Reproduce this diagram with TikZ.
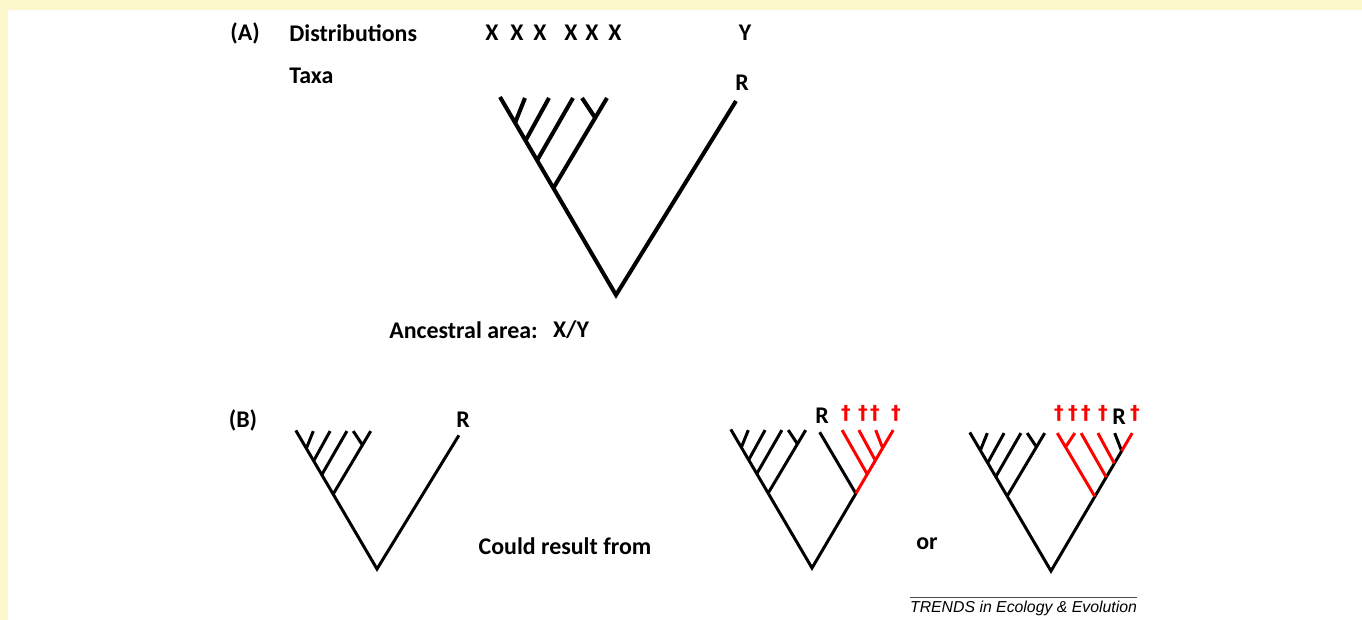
\documentclass[tikz,border=0pt]{standalone}
\usepackage{fontspec}
\setmainfont{Carlito}
\newfontfamily\trendsfont{Liberation Sans}
\newfontfamily\daggerfont{DejaVu Sans}
\usetikzlibrary{calc}
\definecolor{paleyellow}{RGB}{251,247,203}
\definecolor{lostred}{RGB}{255,0,0}
\tikzset{
  bigbranch/.style={line width=2.3pt, black},
  branch/.style={line width=1.7pt, black},
  lost/.style={line width=1.7pt, lostred},
  lab/.style={font=\bfseries\fontsize{13.6}{15}\selectfont, inner sep=0pt},
  dagger/.style={font=\daggerfont\bfseries\fontsize{11}{13}\selectfont, text=lostred, inner sep=0pt},
  credit/.style={font=\trendsfont\itshape\fontsize{9}{10}\selectfont, inner sep=0pt},
}

\begin{document}
\begin{tikzpicture}[x=0.2mm, y=-0.2mm]
  \fill[paleyellow] (0,0) rectangle (1362,620);
  \fill[white] (8,10) rectangle (1362,620);
  % (A)
  \node[lab] (labA) at (245,33) {(A)};
  \node[lab, anchor=west] (distr) at (289,33) {Distributions};
  \node[lab, anchor=west] (taxa) at (289,76) {Taxa};
  \node[lab] (x1) at (492,33) {X};
  \node[lab] (x2) at (517,33) {X};
  \node[lab] (x3) at (540,33) {X};
  \node[lab] (x4) at (571,33) {X};
  \node[lab] (x5) at (592,33) {X};
  \node[lab] (x6) at (615,33) {X};
  \node[lab] (y1) at (745,33) {Y};
  \node[lab] (rA) at (742,83) {R};
  \node[lab, anchor=west] (anc) at (389,330) {Ancestral area:};
  \node[lab] (ancXY) at (571,330) {X/Y};
  \begin{scope}[shift={(616,295)}]
    \coordinate (a0) at (0,0);
    \coordinate (a1) at (-116,-198);
    \coordinate (a2) at (-91,-197);
    \coordinate (a3) at (-67,-197);
    \coordinate (a4) at (-43,-197);
    \coordinate (a5) at (-34,-197);
    \coordinate (a6) at (-9,-197);
    \coordinate (aR) at (120,-194);
  \end{scope}
  \coordinate (an1) at ($(a0)!0.87!(a1)$);
  \coordinate (an2) at ($(a0)!0.78!(a1)$);
  \coordinate (an3) at ($(a0)!0.68!(a1)$);
  \coordinate (an4) at ($(a0)!0.54!(a1)$);
  \coordinate (ac) at ($(an4)!0.78!(a6)$);
  \draw[bigbranch] (a1) -- (a0) -- (aR);
  \draw[bigbranch] (an1) -- (a2) (an2) -- (a3) (an3) -- (a4) (an4) -- (a6) (ac) -- (a5);
  % (B)
  \node[lab] (labB) at (243,420) {(B)};
  \node[lab] (could) at (565,546) {Could result from};
  \node[lab] (or) at (927,544) {or};
  \begin{scope}[shift={(377,569)}, scale=0.7]
    \coordinate (b0) at (0,0);
    \coordinate (b1) at (-116,-198);
    \coordinate (b2) at (-91,-197);
    \coordinate (b3) at (-67,-197);
    \coordinate (b4) at (-43,-197);
    \coordinate (b5) at (-34,-197);
    \coordinate (b6) at (-9,-197);
    \coordinate (bR) at (117,-191);
  \end{scope}
  \coordinate (bn1) at ($(b0)!0.87!(b1)$);
  \coordinate (bn2) at ($(b0)!0.78!(b1)$);
  \coordinate (bn3) at ($(b0)!0.68!(b1)$);
  \coordinate (bn4) at ($(b0)!0.54!(b1)$);
  \coordinate (bc) at ($(bn4)!0.78!(b6)$);
  \draw[branch] (b1) -- (b0) -- (bR);
  \draw[branch] (bn1) -- (b2) (bn2) -- (b3) (bn3) -- (b4) (bn4) -- (b6) (bc) -- (b5);
  \node[lab] (rB) at (463,420) {R};
  \begin{scope}[shift={(812,568)}, scale=0.7]
    \coordinate (c0) at (0,0);
    \coordinate (c1) at (-116,-198);
    \coordinate (c2) at (-91,-197);
    \coordinate (c3) at (-67,-197);
    \coordinate (c4) at (-43,-197);
    \coordinate (c5) at (-34,-197);
    \coordinate (c6) at (-9,-197);
    \coordinate (s1) at (116,-197);
    \coordinate (s2) at (91,-197);
    \coordinate (s3) at (67,-197);
    \coordinate (s4) at (43,-197);
    \coordinate (sR) at (11,-194);
  \end{scope}
  \coordinate (cn1) at ($(c0)!0.87!(c1)$);
  \coordinate (cn2) at ($(c0)!0.78!(c1)$);
  \coordinate (cn3) at ($(c0)!0.68!(c1)$);
  \coordinate (cn4) at ($(c0)!0.54!(c1)$);
  \coordinate (cc) at ($(cn4)!0.78!(c6)$);
  \coordinate (sn1) at ($(c0)!0.87!(s1)$);
  \coordinate (sn2) at ($(c0)!0.78!(s1)$);
  \coordinate (sn3) at ($(c0)!0.68!(s1)$);
  \coordinate (sn4) at ($(c0)!0.54!(s1)$);
  \draw[branch] (c1) -- (c0) -- (sn4) -- (sR);
  \draw[branch] (cn1) -- (c2) (cn2) -- (c3) (cn3) -- (c4) (cn4) -- (c6) (cc) -- (c5);
  \draw[lost] (sn4) -- (s1) (sn1) -- (s2) (sn2) -- (s3) (sn3) -- (s4);
  \node[lab] (rC) at (822,416) {R};
  \node[dagger] (dc1) at (846,413) {†};
  \node[dagger] (dc2) at (863,413) {†};
  \node[dagger] (dc3) at (875,413) {†};
  \node[dagger] (dc4) at (896,413) {†};
  \begin{scope}[shift={(1051,571)}, scale=0.7]
    \coordinate (d0) at (0,0);
    \coordinate (d1) at (-116,-198);
    \coordinate (d2) at (-91,-197);
    \coordinate (d3) at (-67,-197);
    \coordinate (d4) at (-43,-197);
    \coordinate (d5) at (-34,-197);
    \coordinate (d6) at (-9,-197);
    \coordinate (u1) at (116,-197);
    \coordinate (uR) at (91,-197);
    \coordinate (u3) at (67,-197);
    \coordinate (u4) at (43,-197);
    \coordinate (u5) at (34,-197);
    \coordinate (u6) at (9,-197);
  \end{scope}
  \coordinate (dn1) at ($(d0)!0.87!(d1)$);
  \coordinate (dn2) at ($(d0)!0.78!(d1)$);
  \coordinate (dn3) at ($(d0)!0.68!(d1)$);
  \coordinate (dn4) at ($(d0)!0.54!(d1)$);
  \coordinate (dc) at ($(dn4)!0.78!(d6)$);
  \coordinate (un1) at ($(d0)!0.87!(u1)$);
  \coordinate (un2) at ($(d0)!0.78!(u1)$);
  \coordinate (un3) at ($(d0)!0.68!(u1)$);
  \coordinate (un4) at ($(d0)!0.54!(u1)$);
  \coordinate (uc) at ($(un4)!0.78!(u6)$);
  \draw[branch] (d1) -- (d0) -- (un1) -- (uR);
  \draw[branch] (dn1) -- (d2) (dn2) -- (d3) (dn3) -- (d4) (dn4) -- (d6) (dc) -- (d5);
  \draw[lost] (un1) -- (u1) (un2) -- (u3) (un3) -- (u4) (un4) -- (u6) (uc) -- (u5);
  \node[dagger] (dd1) at (1059,413) {†};
  \node[dagger] (dd2) at (1073,413) {†};
  \node[dagger] (dd3) at (1086,413) {†};
  \node[dagger] (dd4) at (1103,413) {†};
  \node[lab] (rD) at (1119,417) {R};
  \node[dagger] (dd5) at (1135,413) {†};
  % credit line
  \coordinate (tl) at (910,597);
  \coordinate (tr) at (1137,597);
  \draw[line width=0.4pt, black!70] (tl) -- (tr);
  \node[credit, anchor=north] (trends) at ($(tl)!0.5!(tr)+(0,4)$) {TRENDS in Ecology \& Evolution};
\end{tikzpicture}
\end{document}
